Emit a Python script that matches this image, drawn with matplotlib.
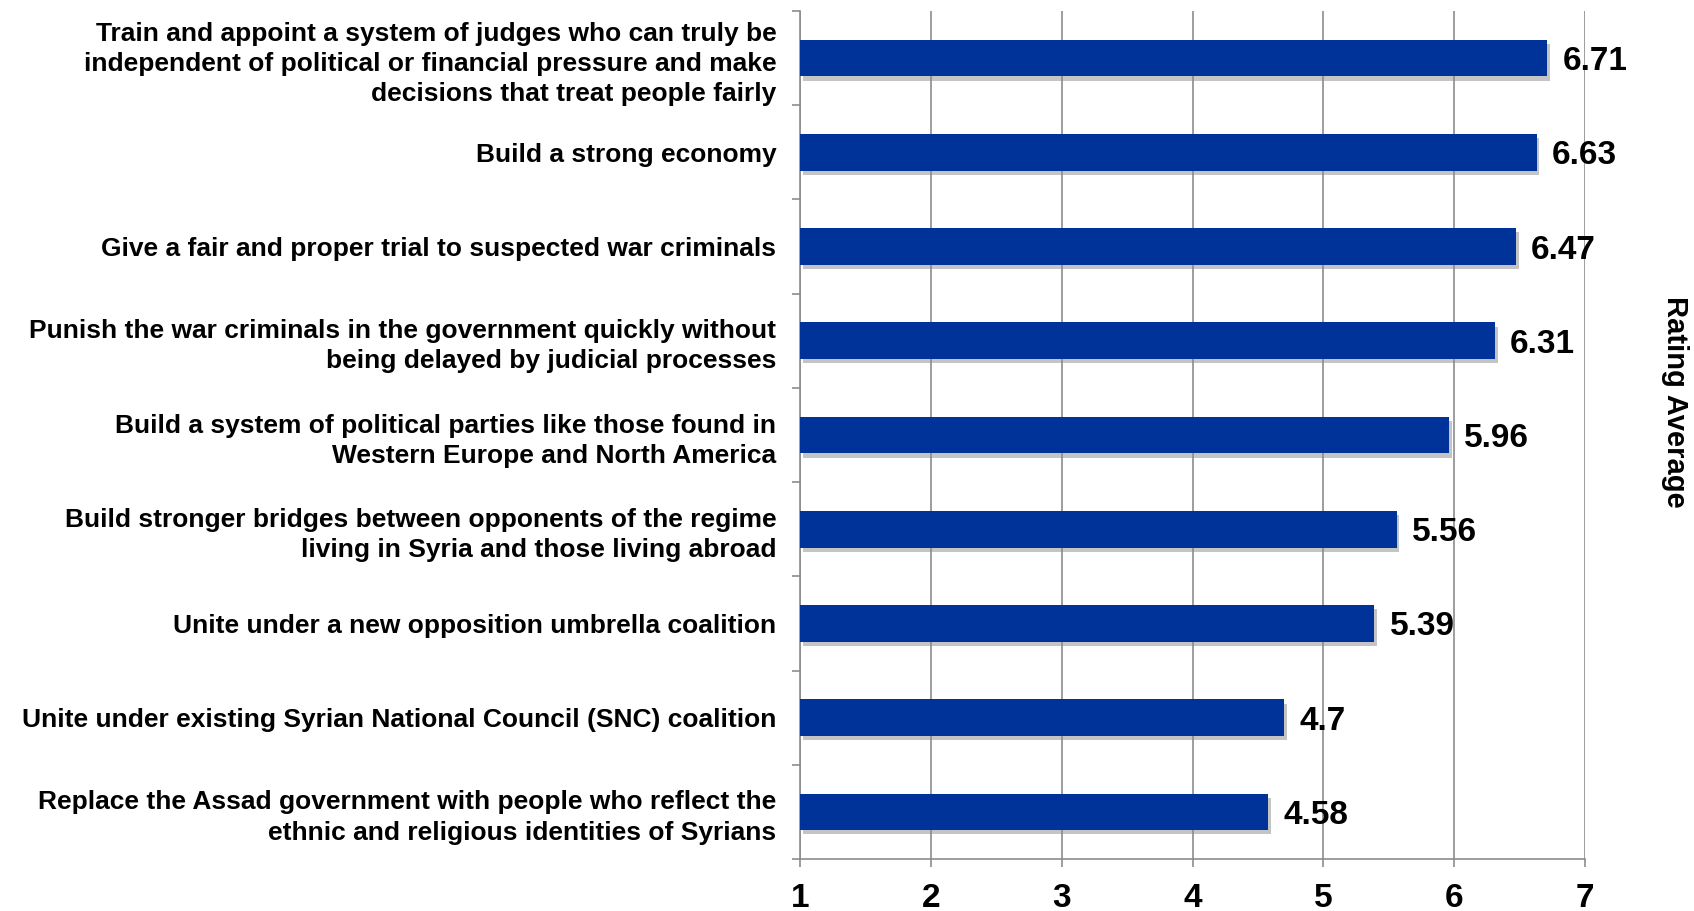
import matplotlib
matplotlib.use("Agg")
import matplotlib.pyplot as plt
import matplotlib.patheffects as pe
from matplotlib import font_manager
import numpy as np

categories = [
    "Train and appoint a system of judges who can truly be\nindependent of political or financial pressure and make\ndecisions that treat people fairly",
    "Build a strong economy",
    "Give a fair and proper trial to suspected war criminals",
    "Punish the war criminals in the government quickly without\nbeing delayed by judicial processes",
    "Build a system of political parties like those found in\nWestern Europe and North America",
    "Build stronger bridges between opponents of the regime\nliving in Syria and those living abroad",
    "Unite under a new opposition umbrella coalition",
    "Unite under existing Syrian National Council (SNC) coalition",
    "Replace the Assad government with people who reflect the\nethnic and religious identities of Syrians",
]
ratings = [6.71, 6.63, 6.47, 6.31, 5.96, 5.56, 5.39, 4.7, 4.58]
value_labels = ["6.71", "6.63", "6.47", "6.31", "5.96", "5.56", "5.39", "4.7", "4.58"]
x_ticks = [1, 2, 3, 4, 5, 6, 7]
axis_title = "Rating Average"

bar_color = "#003399"
grid_color = "#8c8c8c"

installed = {f.name for f in font_manager.fontManager.ttflist}
narrow = "Liberation Sans Narrow" if "Liberation Sans Narrow" in installed else "Liberation Sans"

plt.rcParams["font.family"] = ["Liberation Sans", "DejaVu Sans"]

fig = plt.figure(figsize=(16.94, 9.11), dpi=100)
ax = fig.add_axes([0.4723, 0.057, 0.4634, 0.931])

y = np.arange(len(categories))
bars = ax.barh(y, [r - 1 for r in ratings], left=1, height=0.39, color=bar_color,
               zorder=3)
for b in bars:
    b.set_path_effects([pe.SimplePatchShadow(offset=(2, -3), shadow_rgbFace="#8a8a8a",
                                             alpha=0.5), pe.Normal()])

for yi, r, lab in zip(y, ratings, value_labels):
    ax.annotate(lab, (r, yi), xytext=(11, 0), textcoords="offset points",
                ha="left", va="center_baseline", fontsize=24, fontweight="bold",
                zorder=4)

ax.set_xlim(1, 7)
ax.set_ylim(len(categories) - 0.5, -0.5)

ax.set_xticks(x_ticks)
ax.set_xticklabels([str(t) for t in x_ticks], fontsize=24, fontweight="bold",
                   family=[narrow, "DejaVu Sans"])
ax.tick_params(axis="x", length=6, width=1.2, color=grid_color, pad=11)

# boundaries carry the tick marks, centres carry the labels
ax.set_yticks(np.arange(-0.5, len(categories)), labels=[])
ax.set_yticks(y, labels=categories, minor=True)
ax.tick_params(axis="y", which="major", length=6, width=1.2, color=grid_color)
ax.tick_params(axis="y", which="minor", length=0, pad=17)
for t in ax.get_yticklabels(minor=True):
    t.set_fontsize(19)
    t.set_fontweight("bold")
    t.set_linespacing(1.32)

ax.grid(axis="x", color=grid_color, linewidth=1.2, zorder=0)
for side in ("top", "right"):
    ax.spines[side].set_visible(False)
for side in ("left", "bottom"):
    ax.spines[side].set_color(grid_color)
    ax.spines[side].set_linewidth(1.2)

fig.text(0.989, 0.559, axis_title, rotation=-90, ha="center", va="center",
         fontsize=21, fontweight="bold")

fig.savefig("out.png", dpi=100)
